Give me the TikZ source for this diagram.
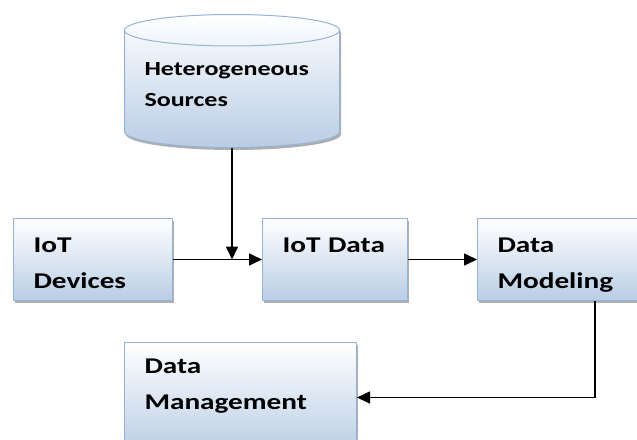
\documentclass[tikz,border=0pt]{standalone}
\usepackage{fontspec}
\setmainfont{Carlito}[FakeStretch=1.3]
\usetikzlibrary{shapes.geometric,arrows.meta,shadows,calc,positioning}

\definecolor{boxline}{HTML}{95B3D7}
\definecolor{boxfill}{HTML}{B9CDE5}

\tikzset{
	stage/.style={rectangle,draw=boxline,line width=1pt,top color=white,bottom color=boxfill,
		drop shadow={shadow xshift=1.5pt,shadow yshift=-2.5pt,fill=black!45,opacity=.7},
		anchor=north west,align=left,inner xsep=20pt,inner ysep=0pt,
		font=\bfseries\fontsize{22.5}{36}\selectfont},
	store/.style={cylinder,shape border rotate=90,draw=boxline,line width=1pt,
		top color=white,bottom color=boxfill,
		drop shadow={shadow xshift=1.5pt,shadow yshift=-2.5pt,fill=black!45,opacity=.7},
		align=left,inner sep=0pt,font=\bfseries\fontsize{20}{31}\selectfont},
	flow/.style={-{Triangle[length=13pt,width=12pt]},line width=1.7pt}
}

\begin{document}
\begin{tikzpicture}[x=1pt,y=-1pt]
	\useasboundingbox (0,0) rectangle (637,439);

	\node[store,minimum width=215pt,minimum height=133pt,aspect=0.18,anchor=south,
		text width=175pt,text height=18pt,text depth=45pt]
		(src) at (232,148) {Heterogeneous\\Sources};

	\node[stage,text width=119pt,text height=34pt,text depth=48pt]
		(dev) at (13,218) {IoT\\Devices};
	\node[stage,text width=105pt,text height=34pt,text depth=48pt]
		(iot) at (262,218) {IoT Data};
	\node[stage,text width=125pt,text height=34pt,text depth=48pt]
		(model) at (477,218) {Data\\Modeling};
	\node[stage,text width=192pt,text height=31pt,text depth=79pt]
		(mgmt) at (124,342) {Data\\Management};

	\coordinate (turn) at ($(model.south west)+(118,0)$);

	\draw[flow] (src.south) -- (src.south |- dev.east);
	\draw[flow] (dev.east) -- (iot.west);
	\draw[flow] (iot.east) -- (model.west);
	\draw[flow] (turn) |- (mgmt.east);
\end{tikzpicture}
\end{document}
